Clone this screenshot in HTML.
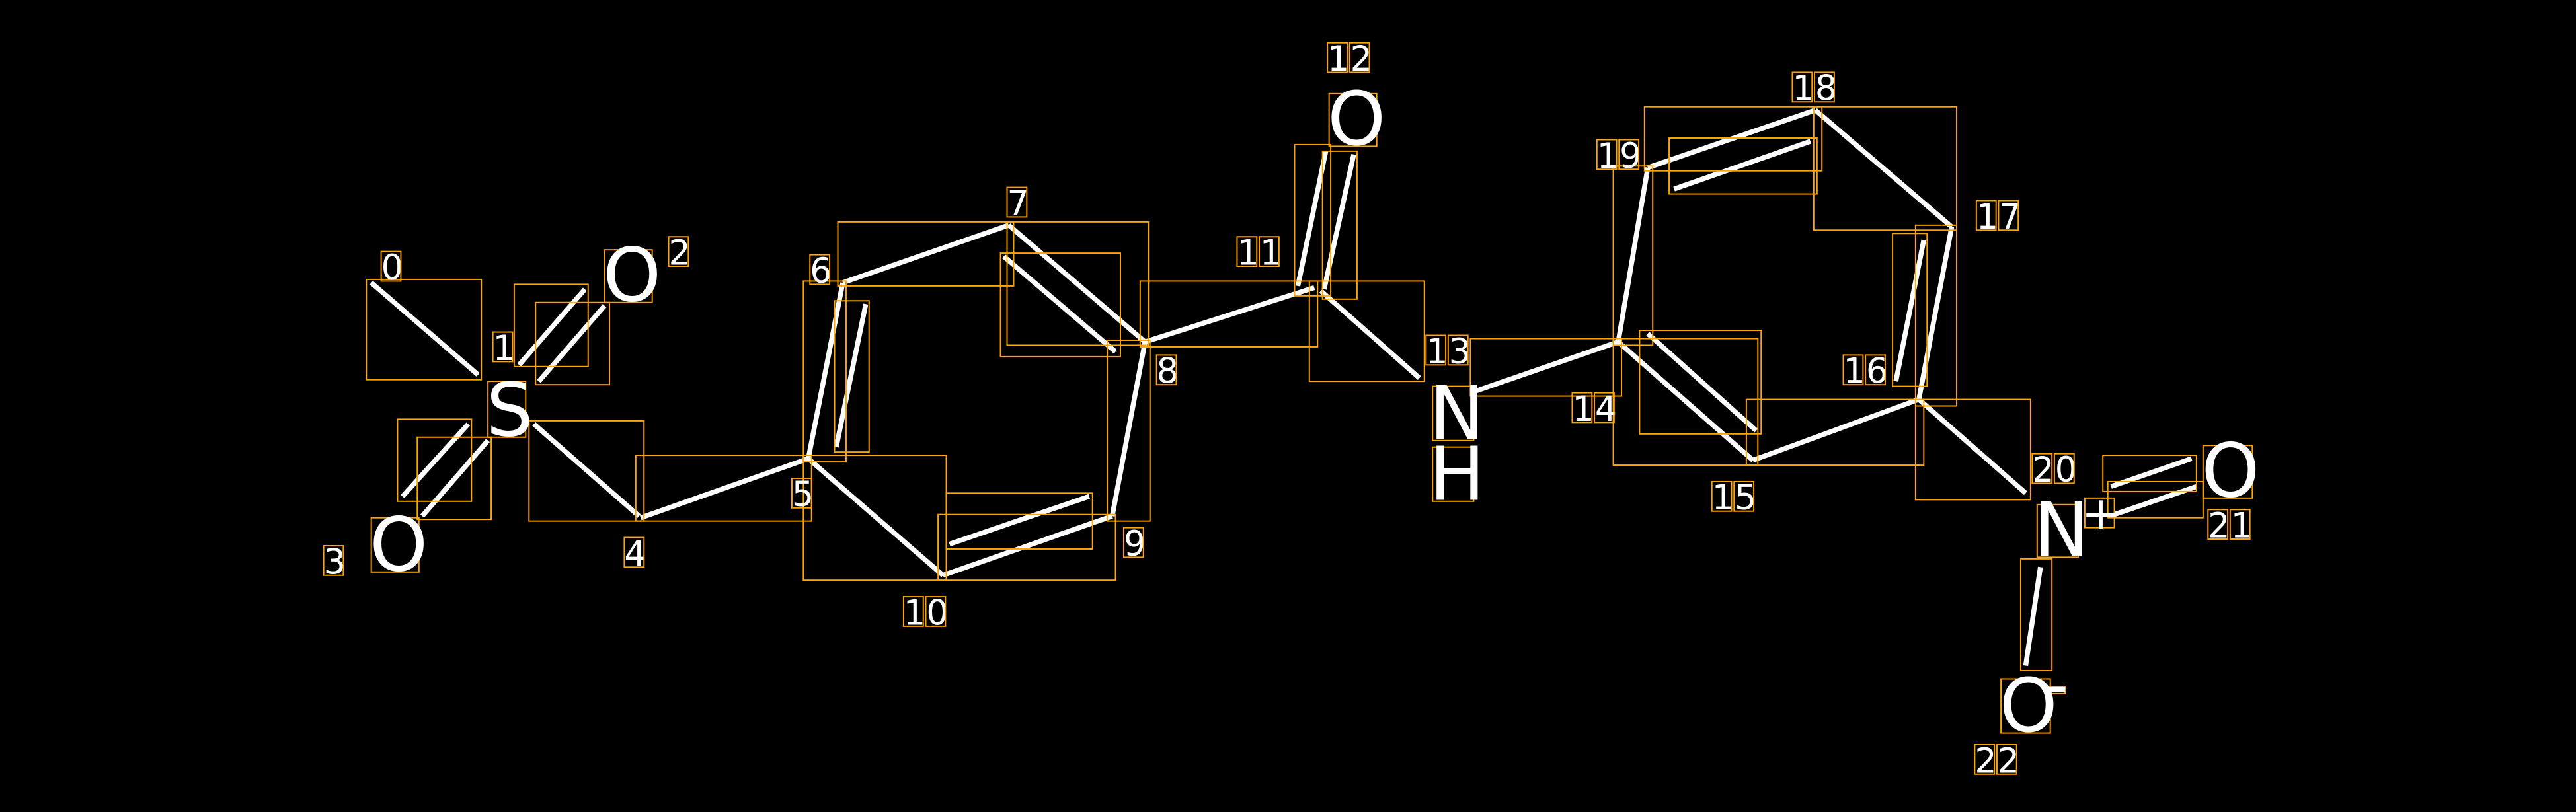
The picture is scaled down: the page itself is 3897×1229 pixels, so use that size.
<!DOCTYPE html>
<html><head><meta charset="utf-8"><style>html,body{margin:0;padding:0;background:#000;}svg{display:block}</style></head>
<body>
<svg width="3897" height="1229" viewBox="0 0 1568 494" preserveAspectRatio="none" xmlns="http://www.w3.org/2000/svg">
<rect width="1568" height="494" fill="#000"/>
<g stroke="#fff" stroke-width="3" stroke-linecap="butt">
<line x1="226" y1="172" x2="291" y2="228"/>
<line x1="316" y1="222" x2="356" y2="176"/><line x1="328" y1="232" x2="368" y2="186"/>
<line x1="245" y1="302" x2="285" y2="258"/><line x1="257" y1="314" x2="297" y2="268"/>
<line x1="325" y1="258" x2="389" y2="314"/>
<line x1="390" y1="315" x2="492" y2="279"/>
<line x1="492" y1="279" x2="513" y2="172"/><line x1="509" y1="272" x2="527" y2="185"/>
<line x1="513" y1="172" x2="614" y2="137"/>
<line x1="614" y1="137" x2="697" y2="208"/><line x1="611" y1="156" x2="679" y2="214"/>
<line x1="697" y1="208" x2="677" y2="314"/>
<line x1="677" y1="314" x2="574" y2="350"/><line x1="578" y1="331" x2="663" y2="302"/>
<line x1="574" y1="350" x2="492" y2="279"/>
<line x1="697" y1="208" x2="800" y2="175"/>
<line x1="790" y1="174" x2="807" y2="92"/><line x1="806" y1="176" x2="824" y2="94"/>
<line x1="804" y1="177" x2="864" y2="230"/>
<line x1="898" y1="238" x2="985" y2="208"/>
<line x1="985" y1="208" x2="1067" y2="280"/><line x1="1003" y1="203" x2="1069" y2="262"/>
<line x1="1067" y1="280" x2="1168" y2="243"/>
<line x1="1168" y1="243" x2="1188" y2="138"/><line x1="1154" y1="232" x2="1171" y2="146"/>
<line x1="1188" y1="138" x2="1105" y2="67"/>
<line x1="1105" y1="67" x2="1003" y2="102"/><line x1="1019" y1="115" x2="1102" y2="86"/>
<line x1="1003" y1="102" x2="985" y2="208"/>
<line x1="1168" y1="243" x2="1233" y2="300"/>
<line x1="1285" y1="296" x2="1334" y2="279"/><line x1="1287" y1="313" x2="1337" y2="296"/>
<line x1="1242" y1="345" x2="1233" y2="405"/>
</g>
<g fill="none" stroke="#ffa500" stroke-width="0.8">
<rect x="223" y="170" width="70" height="61"/>
<rect x="313" y="173" width="45" height="50"/><rect x="326" y="184" width="45" height="50"/>
<rect x="242" y="255" width="45" height="50"/><rect x="254" y="266" width="45" height="50"/>
<rect x="322" y="256" width="70" height="61"/>
<rect x="387" y="277" width="107" height="40"/>
<rect x="489" y="171" width="26" height="110"/><rect x="508" y="183" width="21" height="92"/>
<rect x="510" y="135" width="107" height="39"/>
<rect x="613" y="135" width="86" height="75"/><rect x="609" y="154" width="73" height="63"/>
<rect x="674" y="207" width="26" height="110"/>
<rect x="571" y="313" width="108" height="40"/><rect x="576" y="300" width="89" height="34"/>
<rect x="489" y="277" width="87" height="76"/>
<rect x="694" y="171" width="108" height="40"/>
<rect x="788" y="88" width="22" height="92"/><rect x="805" y="92" width="21" height="90"/>
<rect x="797" y="171" width="70" height="61"/>
<rect x="895" y="206" width="92" height="35"/>
<rect x="982" y="101" width="24" height="109"/>
<rect x="982" y="206" width="88" height="77"/><rect x="998" y="201" width="74" height="63"/>
<rect x="1063" y="243" width="108" height="40"/>
<rect x="1152" y="142" width="21" height="93"/><rect x="1166" y="137" width="25" height="110"/>
<rect x="1104" y="65" width="87" height="75"/>
<rect x="1001" y="65" width="108" height="39"/><rect x="1016" y="84" width="90" height="34"/>
<rect x="1166" y="243" width="70" height="61"/>
<rect x="1280" y="277" width="57" height="22"/><rect x="1283" y="293" width="58" height="22"/>
<rect x="1230" y="340" width="19" height="68"/>
<!-- atom letter boxes -->
<rect x="297" y="232" width="23" height="34"/>
<rect x="368" y="152" width="29" height="32"/>
<rect x="226" y="315" width="29" height="33"/>
<rect x="809" y="57" width="29" height="32"/>
<rect x="872" y="235" width="25" height="33"/>
<rect x="872" y="272" width="25" height="33"/>
<rect x="1240" y="307" width="25" height="32"/>
<rect x="1269" y="303" width="18" height="18"/>
<rect x="1341" y="271" width="30" height="32"/>
<rect x="1218" y="413" width="30" height="33"/>
<rect x="1247" y="418" width="10" height="4"/>
</g>
<g fill="#fff" font-family="'DejaVu Sans','Liberation Sans',sans-serif" font-size="45">
<text x="296" y="265">S</text>
<text x="367" y="183">O</text>
<text x="225" y="347">O</text>
<text x="808" y="88">O</text>
<text x="870" y="267">N</text>
<text x="870" y="304">H</text>
<text x="1238" y="338">N</text>
<text x="1267" y="322" font-size="28">+</text>
<text x="1340" y="302">O</text>
<text x="1217" y="445">O</text>
<rect x="1247" y="418" width="10" height="3"/>
</g>
<g fill="#fff" font-family="'DejaVu Sans','Liberation Sans',sans-serif" font-size="21" letter-spacing="0.5">
<text x="232" y="170">0</text>
<text x="300" y="219">1</text>
<text x="407" y="161">2</text>
<text x="197" y="349">3</text>
<text x="380" y="344">4</text>
<text x="482" y="308">5</text>
<text x="493" y="172">6</text>
<text x="613" y="131">7</text>
<text x="704" y="233">8</text>
<text x="684" y="338">9</text>
<text x="550" y="380">10</text>
<text x="753" y="161">11</text>
<text x="808" y="43">12</text>
<text x="868" y="221">13</text>
<text x="957" y="256">14</text>
<text x="1042" y="310">15</text>
<text x="1122" y="233">16</text>
<text x="1203" y="139">17</text>
<text x="1091" y="61">18</text>
<text x="972" y="102">19</text>
<text x="1237" y="293">20</text>
<text x="1344" y="327">21</text>
<text x="1202" y="470">22</text>
</g>
<g fill="none" stroke="#ffa500" stroke-width="0.8">
<rect x="232" y="153" width="12" height="18"/>
<rect x="300" y="202" width="12" height="18"/>
<rect x="407" y="144" width="12" height="18"/>
<rect x="197" y="332" width="12" height="18"/>
<rect x="380" y="327" width="12" height="18"/>
<rect x="482" y="291" width="12" height="18"/>
<rect x="493" y="155" width="12" height="18"/>
<rect x="613" y="114" width="12" height="18"/>
<rect x="704" y="216" width="12" height="18"/>
<rect x="684" y="321" width="12" height="18"/>
<rect x="550" y="363" width="12" height="18"/><rect x="563.5" y="363" width="12" height="18"/>
<rect x="753" y="144" width="12" height="18"/><rect x="766.5" y="144" width="12" height="18"/>
<rect x="808" y="26" width="12" height="18"/><rect x="821.5" y="26" width="12" height="18"/>
<rect x="868" y="204" width="12" height="18"/><rect x="881.5" y="204" width="12" height="18"/>
<rect x="957" y="239" width="12" height="18"/><rect x="970.5" y="239" width="12" height="18"/>
<rect x="1042" y="293" width="12" height="18"/><rect x="1055.5" y="293" width="12" height="18"/>
<rect x="1122" y="216" width="12" height="18"/><rect x="1135.5" y="216" width="12" height="18"/>
<rect x="1203" y="122" width="12" height="18"/><rect x="1216.5" y="122" width="12" height="18"/>
<rect x="1091" y="44" width="12" height="18"/><rect x="1104.5" y="44" width="12" height="18"/>
<rect x="972" y="85" width="12" height="18"/><rect x="985.5" y="85" width="12" height="18"/>
<rect x="1237" y="276" width="12" height="18"/><rect x="1250.5" y="276" width="12" height="18"/>
<rect x="1344" y="310" width="12" height="18"/><rect x="1357.5" y="310" width="12" height="18"/>
<rect x="1202" y="453" width="12" height="18"/><rect x="1215.5" y="453" width="12" height="18"/>
</g>
</svg>
</body></html>
